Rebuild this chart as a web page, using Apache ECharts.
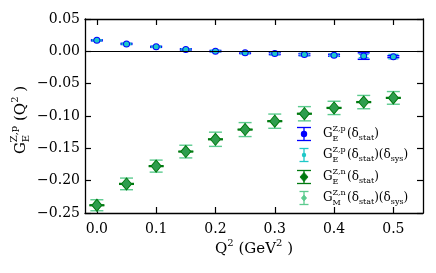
<!DOCTYPE html>
<html><head><meta charset="utf-8">
<script src="https://cdn.jsdelivr.net/npm/echarts@6/dist/echarts.min.js"></script>
<style>html,body{margin:0;padding:0;background:#fff}#c{width:436px;height:273px}</style>
</head><body><div id="c"></div>
<script>
// ---- data ----
const q2 = [0, 0.05, 0.1, 0.15, 0.2, 0.25, 0.3, 0.35, 0.4, 0.45, 0.5];
const gepVal  = [0.017, 0.0115, 0.007, 0.003, 0.0003, -0.0022, -0.0035, -0.005, -0.006, -0.0073, -0.0082];
const gepStat = [0.0008, 0.0008, 0.0008, 0.001, 0.001, 0.0012, 0.0015, 0.0015, 0.0015, 0.005, 0.0015];
const gepSys  = [0.001, 0.001, 0.001, 0.001, 0.0012, 0.0015, 0.002, 0.002, 0.002, 0.0025, 0.0035];
const genVal  = [-0.238, -0.205, -0.1775, -0.155, -0.136, -0.121, -0.108, -0.0965, -0.0875, -0.0785, -0.072];
const genStat = [0.0006, 0.0006, 0.0006, 0.0006, 0.0006, 0.0006, 0.0006, 0.0006, 0.0006, 0.0006, 0.0006];
const genSys  = [0.0085, 0.009, 0.0093, 0.0098, 0.011, 0.0108, 0.011, 0.011, 0.0103, 0.0103, 0.0098];
const xTicks = [0, 0.1, 0.2, 0.3, 0.4, 0.5];
const xRange = [-0.02, 0.55];
const yRange = [-0.25, 0.05];
const yStep = 0.05;

const FONT = 'DejaVu Serif';
const C_BLUE = '#0000ff', C_CYAN = '#1ec8c8', C_DG = '#007a10', C_DGF = '#2e9d4e', C_LG = '#5ccb8f';

const chart = echarts.init(document.getElementById('c'), null, {renderer: 'canvas'});

function errSeries(vals, errs, color, capHalf, lw) {
  return {
    type: 'custom',
    data: q2.map((q, i) => [q, vals[i], errs[i]]),
    encode: {x: 0, y: 1},
    renderItem: function (params, api) {
      const x = api.value(0), y = api.value(1), e = api.value(2);
      const t = api.coord([x, y + e]), b = api.coord([x, y - e]);
      const st = {stroke: color, lineWidth: lw};
      return {type: 'group', children: [
        {type: 'line', shape: {x1: t[0], y1: t[1], x2: b[0], y2: b[1]}, style: st},
        {type: 'line', shape: {x1: t[0] - capHalf, y1: t[1], x2: t[0] + capHalf, y2: t[1]}, style: st},
        {type: 'line', shape: {x1: b[0] - capHalf, y1: b[1], x2: b[0] + capHalf, y2: b[1]}, style: st}
      ]};
    }
  };
}
function markSeries(vals, symbol, size, fill, border, bw) {
  return {
    type: 'scatter', data: q2.map((q, i) => [q, vals[i]]),
    symbol: symbol, symbolSize: size,
    itemStyle: {color: fill, borderColor: border, borderWidth: bw, opacity: 1},
    emphasis: {disabled: true}
  };
}

// rich text helper (layout only)
const cv = document.createElement('canvas').getContext('2d');
function tw(t, fs) { cv.font = fs + 'px "' + FONT + '"'; return cv.measureText(t).width; }
function rich(parts, x, y, rotation, center) {
  let cx = 0; const kids = [];
  parts.forEach(p => {
    const items = p.stack ? p.stack : [p];
    let w = 0;
    items.forEach(it => {
      kids.push({type: 'text', x: cx, y: it.dy || 0,
        style: {text: it.t, font: it.fs + 'px "' + FONT + '"', fill: '#000', align: 'left', verticalAlign: 'middle'}});
      w = Math.max(w, tw(it.t, it.fs));
    });
    cx += w;
  });
  const off = center ? -cx / 2 : 0;
  kids.forEach(k => k.x += off);
  return {type: 'group', x: x, y: y, rotation: rotation || 0, children: kids, silent: true};
}
function gLabel(sup, sub, fs, sfs) {
  return [{t: 'G', fs: fs}, {stack: [{t: sup, fs: sfs, dy: -0.42 * fs}, {t: sub, fs: sfs, dy: 0.38 * fs}]}];
}
function dsub(name, fs, sfs) {
  return [{t: '(', fs: fs}, {t: 'δ', fs: fs}, {t: name, fs: sfs, dy: 0.35 * fs}, {t: ')', fs: fs}];
}
function legendIcon(cx, cy, color, capHalf, sym, r, fill) {
  const st = {stroke: color, lineWidth: 1.3};
  const kids = [
    {type: 'line', shape: {x1: cx, y1: cy - 6.5, x2: cx, y2: cy + 6.5}, style: st},
    {type: 'line', shape: {x1: cx - capHalf, y1: cy - 6.5, x2: cx + capHalf, y2: cy - 6.5}, style: st},
    {type: 'line', shape: {x1: cx - capHalf, y1: cy + 6.5, x2: cx + capHalf, y2: cy + 6.5}, style: st}
  ];
  if (sym === 'circle') kids.push({type: 'circle', shape: {cx: cx, cy: cy, r: r}, style: {fill: fill}});
  else kids.push({type: 'polygon', shape: {points: [[cx, cy - r * 1.15], [cx + r, cy], [cx, cy + r * 1.15], [cx - r, cy]]}, style: {fill: fill, stroke: color, lineWidth: 0.8}});
  return {type: 'group', children: kids, silent: true};
}

const LF = 12, LS = 8, LX = 323, IX = 304;
const rows = [134, 155, 177, 198];
const graphics = [
  legendIcon(IX, rows[0], C_BLUE, 7, 'circle', 3.2, C_BLUE),
  rich(gLabel('Z,p', 'E', LF, LS).concat([{t: ' ', fs: 4}]).concat(dsub('stat', LF, LS)), LX, rows[0]),
  legendIcon(IX, rows[1], C_CYAN, 4.5, 'circle', 2.2, C_CYAN),
  rich(gLabel('Z,p', 'E', LF, LS).concat([{t: ' ', fs: 4}]).concat(dsub('stat', LF, LS)).concat(dsub('sys', LF, LS)), LX, rows[1]),
  legendIcon(IX, rows[2], C_DG, 7, 'diamond', 4, C_DG),
  rich(gLabel('Z,n', 'E', LF, LS).concat([{t: ' ', fs: 4}]).concat(dsub('stat', LF, LS)), LX, rows[2]),
  legendIcon(IX, rows[3], C_LG, 4.5, 'diamond', 2.6, C_LG),
  rich(gLabel('Z,n', 'M', LF, LS).concat([{t: ' ', fs: 4}]).concat(dsub('stat', LF, LS)).concat(dsub('sys', LF, LS)), LX, rows[3]),
  // axis titles
  rich([{t: 'Q', fs: 15}, {t: '2', fs: 10, dy: -6}, {t: ' (GeV', fs: 15}, {t: '2', fs: 10, dy: -6}, {t: ' )', fs: 15}], 254, 249, 0, true),
  rich(gLabel('Z,p', 'E', 15, 10).concat([{t: ' (Q', fs: 15}, {t: '2', fs: 10, dy: -6}, {t: ' )', fs: 15}]), 21, 120, Math.PI / 2, true)
];

function yFmt(v) { const s = Math.abs(v).toFixed(2); return v < -1e-9 ? '−' + s : s; }

const axisLine = {show: true, onZero: false, lineStyle: {color: '#000', width: 1.3}};
const option = {
  animation: false,
  backgroundColor: '#fff',
  grid: {left: 85, right: 13, top: 19, bottom: 60, containLabel: false},
  xAxis: [
    {type: 'value', min: xRange[0], max: xRange[1], position: 'bottom', axisLine: axisLine,
     axisTick: {show: true, inside: true, length: 6, customValues: xTicks, lineStyle: {color: '#000', width: 1.2}},
     axisLabel: {customValues: xTicks, formatter: v => v.toFixed(1), fontFamily: FONT, fontSize: 14, color: '#000', margin: 9},
     splitLine: {show: false}},
    {type: 'value', min: xRange[0], max: xRange[1], position: 'top', axisLine: axisLine,
     axisTick: {show: true, inside: true, length: 6, customValues: xTicks, lineStyle: {color: '#000', width: 1.2}},
     axisLabel: {show: false}, splitLine: {show: false}}
  ],
  yAxis: [
    {type: 'value', min: yRange[0], max: yRange[1], interval: yStep, position: 'left', axisLine: axisLine,
     axisTick: {show: true, inside: true, length: 6, lineStyle: {color: '#000', width: 1.2}},
     axisLabel: {formatter: yFmt, fontFamily: FONT, fontSize: 14, color: '#000', margin: 5},
     splitLine: {show: false}},
    {type: 'value', min: yRange[0], max: yRange[1], interval: yStep, position: 'right', axisLine: axisLine,
     axisTick: {show: true, inside: true, length: 6, lineStyle: {color: '#000', width: 1.2}},
     axisLabel: {show: false}, splitLine: {show: false}}
  ],
  graphic: graphics,
  series: [
    Object.assign(errSeries(gepVal, gepStat, C_BLUE, 6, 1.5), {
      markLine: {silent: true, symbol: 'none', label: {show: false}, lineStyle: {color: '#000', width: 1.2, type: 'solid'}, data: [{yAxis: 0}]}
    }),
    markSeries(gepVal, 'circle', 7, C_BLUE, C_BLUE, 0),
    errSeries(gepVal, gepSys, C_CYAN, 5, 1.3),
    markSeries(gepVal, 'circle', 5, C_CYAN, C_CYAN, 0),
    errSeries(genVal, genSys, C_LG, 6.5, 1.4),
    markSeries(genVal, 'diamond', [10, 12], C_DGF, C_DG, 1),
    errSeries(genVal, genStat, C_DG, 7.5, 1.5)
  ]
};
chart.setOption(option);
</script></body></html>
